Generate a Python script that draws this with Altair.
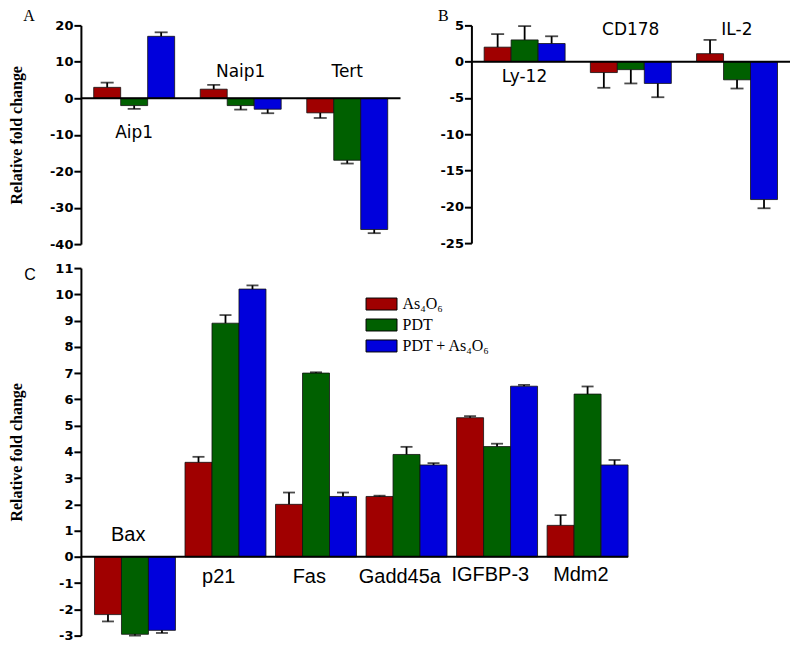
import altair as alt
import pandas as pd

# ---------------- data ----------------
series = ["As₄O₆", "PDT", "PDT + As₄O₆"]
colors = ["#a00000", "#006000", "#0000dc"]

a_genes = ["Aip1", "Naip1", "Tert"]
a_as4o6 = [3.0, 2.5, -4.0]
a_pdt = [-2.0, -2.0, -17.0]
a_combo = [17.0, -3.0, -36.0]
a_as4o6_err = [1.3, 1.2, 1.4]
a_pdt_err = [0.9, 1.1, 0.9]
a_combo_err = [1.1, 1.1, 1.0]

b_genes = ["Ly-12", "CD178", "IL-2"]
b_as4o6 = [2.0, -1.5, 1.1]
b_pdt = [3.0, -1.1, -2.5]
b_combo = [2.5, -3.0, -19.0]
b_as4o6_err = [1.8, 2.1, 1.9]
b_pdt_err = [1.9, 1.9, 1.2]
b_combo_err = [1.0, 1.9, 1.2]

c_genes = ["Bax", "p21", "Fas", "Gadd45a", "IGFBP-3", "Mdm2"]
c_as4o6 = [-2.2, 3.6, 2.0, 2.3, 5.3, 1.2]
c_pdt = [-2.95, 8.9, 7.0, 3.9, 4.2, 6.2]
c_combo = [-2.8, 10.2, 2.3, 3.5, 6.5, 3.5]
c_as4o6_err = [0.26, 0.21, 0.45, 0.03, 0.06, 0.39]
c_pdt_err = [0.05, 0.31, 0.03, 0.29, 0.11, 0.29]
c_combo_err = [0.1, 0.14, 0.15, 0.07, 0.05, 0.19]

# gene label placement (data units on each panel's y scale)
a_label_y = [-9.5, 7.2, 7.2]
b_label_y = [-2.1, 4.4, 4.4]
c_label_y = [0.85, -0.75, -0.75, -0.75, -0.7, -0.7]

Y_TITLE = "Relative fold change"


def make_df(genes, vals, errs):
    rows = []
    for s, v_list, e_list in zip(series, vals, errs):
        for g, v, e in zip(genes, v_list, e_list):
            sign = 1 if v >= 0 else -1
            rows.append({"gene": g, "series": s, "value": v, "end": v + sign * e})
    return pd.DataFrame(rows)


def panel(genes, vals, errs, label_y, domain, ticks, width, height, title, title_pad,
          letter, letter_xy, letter_font, label_font, label_size,
          pad_inner, pad_outer, cap, legend):
    df = make_df(genes, vals, errs)
    lab = pd.DataFrame({"gene": genes, "ly": label_y})
    xs = alt.Scale(domain=genes, paddingInner=pad_inner, paddingOuter=pad_outer)
    x = alt.X("gene:N", sort=genes, scale=xs, axis=None)
    xo = alt.XOffset("series:N", sort=series,
                     scale=alt.Scale(domain=series, paddingInner=0, paddingOuter=0))
    ys = alt.Scale(domain=domain, nice=False)
    ax = alt.Axis(values=ticks, title=title, titlePadding=title_pad,
                  labelExpr="datum.value + ''")
    col = alt.Color("series:N", sort=series,
                    scale=alt.Scale(domain=series, range=colors), legend=legend)

    base = alt.Chart(df)
    bars = base.mark_bar(stroke="#111111", strokeWidth=0.8, opacity=1).encode(
        x=x, xOffset=xo, y=alt.Y("value:Q", scale=ys, axis=ax), y2=alt.Y2(datum=0), color=col
    )
    err = base.mark_rule(color="black", strokeWidth=1.8).encode(
        x=x, xOffset=xo, y=alt.Y("value:Q", scale=ys, axis=ax), y2="end:Q"
    )
    caps = base.mark_tick(color="black", thickness=1.8, size=cap, orient="horizontal").encode(
        x=x, xOffset=xo, y=alt.Y("end:Q", scale=ys, axis=ax)
    )
    zero = alt.Chart(pd.DataFrame({"z": [0]})).mark_rule(color="black", strokeWidth=2).encode(
        y=alt.Y("z:Q", scale=ys, axis=ax), x=alt.value(0), x2=alt.value(width)
    )
    labels = alt.Chart(lab).mark_text(
        font=label_font, fontSize=label_size, color="black", baseline="middle", align="center"
    ).encode(x=x, y=alt.Y("ly:Q", scale=ys, axis=ax), text="gene:N")
    letter_mark = alt.Chart(pd.DataFrame({"t": [letter]})).mark_text(
        font=letter_font, fontSize=16, color="black", baseline="top", align="center"
    ).encode(x=alt.value(letter_xy[0]), y=alt.value(letter_xy[1]), text="t:N")

    return alt.layer(bars, err, caps, zero, labels, letter_mark).properties(
        width=width, height=height
    )


legend_c = alt.Legend(
    orient="none", legendX=288, legendY=23, title=None,
    symbolType="M-1.24,-0.48L1.24,-0.48L1.24,0.48L-1.24,0.48Z",
    symbolSize=625, symbolStrokeColor="black", symbolStrokeWidth=1,
    symbolOpacity=1, labelFont="Liberation Serif", labelFontSize=16,
    labelColor="black", labelOffset=8, rowPadding=0, padding=0,
)

A = panel(a_genes, [a_as4o6, a_pdt, a_combo], [a_as4o6_err, a_pdt_err, a_combo_err],
          a_label_y, [-40, 20], list(range(-40, 21, 10)), 320, 219, Y_TITLE, 25,
          "A", (-52, -17), "Liberation Serif", "DejaVu Sans", 17, 0.24, 0.12, 13, None)
B = panel(b_genes, [b_as4o6, b_pdt, b_combo], [b_as4o6_err, b_pdt_err, b_combo_err],
          b_label_y, [-25, 5], list(range(-25, 6, 5)), 319, 218, "", 26,
          "B", (-28, -17), "Liberation Serif", "DejaVu Sans", 17, 0.24, 0.12, 13, None)
C = panel(c_genes, [c_as4o6, c_pdt, c_combo], [c_as4o6_err, c_pdt_err, c_combo_err],
          c_label_y, [-3, 11], list(range(-3, 12, 1)), 548, 368, Y_TITLE, 30,
          "C", (-51, -1), "Liberation Sans", "Liberation Sans", 20, 0.254, 0.15, 12, legend_c)

top = alt.hconcat(A, B, spacing=71, bounds="flush").resolve_scale(color="independent")
chart = alt.vconcat(top, C, spacing=11).resolve_scale(color="independent").properties(
    padding={"left": 0, "top": 0, "right": 0, "bottom": 0}
).configure_view(stroke=None).configure_axis(
    domainColor="black", domainWidth=2, tickColor="black", tickWidth=2, tickSize=7,
    labelFont="DejaVu Sans", labelFontWeight="bold", labelFontSize=13, labelColor="black",
    labelPadding=1, titleFont="Liberation Serif", titleFontSize=16, titleFontWeight="bold",
    titleColor="black", grid=False,
)

chart.save("out.html", embed_options={"renderer": "svg", "actions": False})
